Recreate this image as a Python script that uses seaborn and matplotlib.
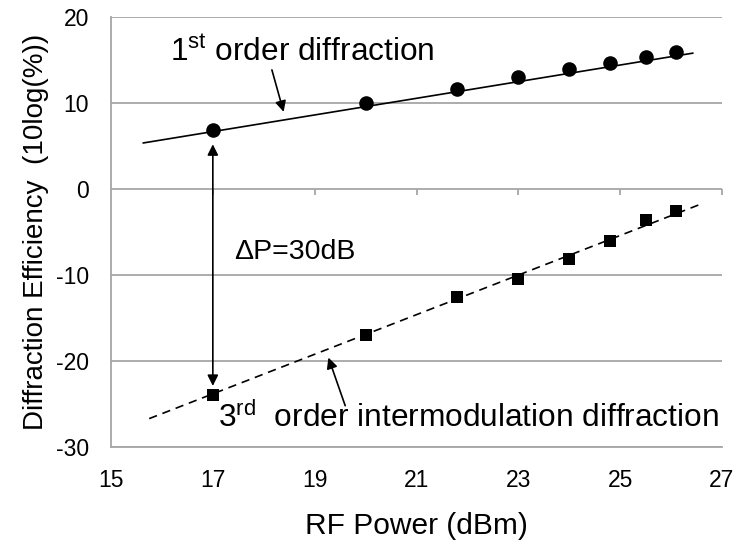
import matplotlib
matplotlib.use("Agg")
import matplotlib.pyplot as plt
import seaborn as sns
import pandas as pd

# ---- data ----
rf_power = [17, 20, 21.8, 23, 24, 24.8, 25.5, 26.1]
first_order = [6.9, 10.0, 11.6, 13.0, 13.9, 14.65, 15.35, 15.9]
third_order = [-23.9, -17.0, -12.6, -10.5, -8.1, -6.1, -3.6, -2.5]
trend1_x = [15.63, 26.43]
trend1_y = [5.35, 15.8]
trend3_x = [15.75, 26.63]
trend3_y = [-26.7, -1.65]
x_ticks = [15, 17, 19, 21, 23, 25, 27]
y_ticks = [-30, -20, -10, 0, 10, 20]

sns.set_style("white")
plt.rcParams["font.family"] = ["Liberation Sans", "DejaVu Sans"]
plt.rcParams["mathtext.fontset"] = "custom"
plt.rcParams["mathtext.rm"] = "Liberation Sans"
plt.rcParams["mathtext.it"] = "Liberation Sans"
plt.rcParams["axes.unicode_minus"] = False
plt.rcParams["text.color"] = "black"
plt.rcParams["axes.labelcolor"] = "black"
plt.rcParams["xtick.color"] = "black"
plt.rcParams["ytick.color"] = "black"

GRID = "#a6a6a6"

fig = plt.figure(figsize=(7.41, 5.47), dpi=100)
ax = fig.add_axes([111 / 741, 1 - 447 / 547, (722 - 111) / 741, (447 - 17) / 547])

df = pd.DataFrame({"p": rf_power, "f": first_order, "t": third_order})
t1 = pd.DataFrame({"x": trend1_x, "y": trend1_y})
t3 = pd.DataFrame({"x": trend3_x, "y": trend3_y})

sns.lineplot(data=t1, x="x", y="y", ax=ax, color="black", lw=1.2, zorder=3)
sns.lineplot(data=t3, x="x", y="y", ax=ax, color="black", lw=1.2,
             linestyle=(0, (5, 3.5)), zorder=3)
sns.scatterplot(data=df, x="p", y="f", ax=ax, marker="o", s=110,
                color="black", edgecolor="black", linewidth=0, zorder=4)
sns.scatterplot(data=df, x="p", y="t", ax=ax, marker="s", s=70,
                color="black", edgecolor="black", linewidth=0, zorder=4)

ax.set_xlim(15, 27)
ax.set_ylim(-30, 20)
ax.set_xticks(x_ticks)
ax.set_yticks(y_ticks)
ax.yaxis.grid(True, color=GRID, lw=1.3)
ax.xaxis.grid(False)
ax.set_axisbelow(True)
for s in ["top", "right"]:
    ax.spines[s].set_visible(False)
for s in ["left", "bottom"]:
    ax.spines[s].set_color(GRID)
    ax.spines[s].set_linewidth(1.3)
ax.tick_params(axis="x", length=0, pad=16, labelsize=16.5, labelcolor="black")
ax.tick_params(axis="y", length=5, width=1.3, color=GRID, pad=11,
               labelsize=16.5, labelcolor="black")

# small x tick marks sitting on the y = 0 line
sec = ax.secondary_xaxis(0.6)
sec.set_xticks(x_ticks[1:])
sec.tick_params(direction="in", length=4, width=1.3, color=GRID,
                labeltop=False, labelbottom=False)
for s in sec.spines.values():
    s.set_visible(False)

ax.set_xlabel("RF Power (dBm)", fontsize=21.5, labelpad=14, color="black")
ax.set_ylabel("Diffraction Efficiency  (10log(%))", fontsize=20, labelpad=5,
              color="black")

# annotations
ax.text(16.16, 15.8, r"1$^{\mathrm{st}}$ order diffraction", fontsize=22.8,
        va="center", ha="left", color="black")
ax.annotate("", xy=(18.39, 8.97), xytext=(18.16, 13.85),
            arrowprops=dict(arrowstyle="-|>", color="black", lw=1.2,
                            mutation_scale=16, shrinkA=0, shrinkB=0))
ax.annotate("", xy=(17.0, 5.2), xytext=(17.0, -22.9),
            arrowprops=dict(arrowstyle="<|-|>", color="black", lw=1.2,
                            mutation_scale=16, shrinkA=0, shrinkB=0))
ax.text(17.42, -7.3, "ΔP=30dB", fontsize=20.5, va="center", ha="left",
        color="black")
ax.text(17.1, -26.6, r"3$^{\mathrm{rd}}$  order intermodulation diffraction",
        fontsize=22.8, va="center", ha="left", color="black")
ax.annotate("", xy=(19.27, -19.6), xytext=(19.6, -25.2),
            arrowprops=dict(arrowstyle="-|>", color="black", lw=1.2,
                            mutation_scale=16, shrinkA=0, shrinkB=0))

fig.savefig("out.png", dpi=100)
